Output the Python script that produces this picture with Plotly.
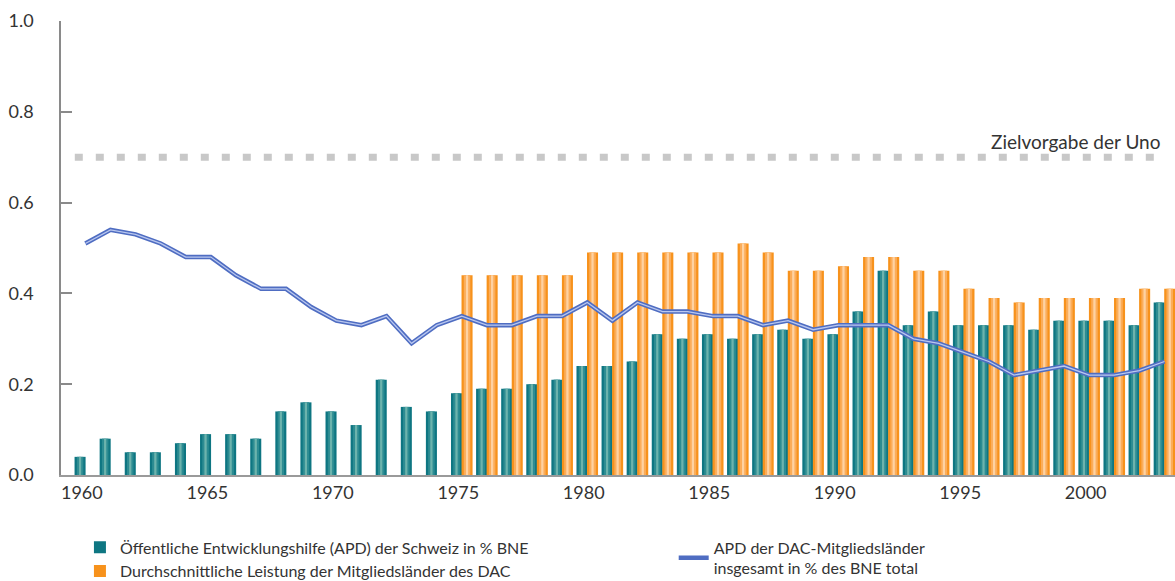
import plotly.graph_objects as go

years = list(range(1960, 2004))
swiss_apd = [0.04, 0.08, 0.05, 0.05, 0.07, 0.09, 0.09, 0.08, 0.14, 0.16,
             0.14, 0.11, 0.21, 0.15, 0.14, 0.18, 0.19, 0.19, 0.20, 0.21,
             0.24, 0.24, 0.25, 0.31, 0.30, 0.31, 0.30, 0.31, 0.32, 0.30,
             0.31, 0.36, 0.45, 0.33, 0.36, 0.33, 0.33, 0.33, 0.32, 0.34,
             0.34, 0.34, 0.33, 0.38]
dac_years = list(range(1975, 2004))
dac_avg = [0.44, 0.44, 0.44, 0.44, 0.44, 0.49, 0.49, 0.49, 0.49, 0.49,
           0.49, 0.51, 0.49, 0.45, 0.45, 0.46, 0.48, 0.48, 0.45, 0.45,
           0.41, 0.39, 0.38, 0.39, 0.39, 0.39, 0.39, 0.41, 0.41]
dac_total = [0.51, 0.54, 0.53, 0.51, 0.48, 0.48, 0.44, 0.41, 0.41, 0.37,
             0.34, 0.33, 0.35, 0.29, 0.33, 0.35, 0.33, 0.33, 0.35, 0.35,
             0.38, 0.34, 0.38, 0.36, 0.36, 0.35, 0.35, 0.33, 0.34, 0.32,
             0.33, 0.33, 0.33, 0.30, 0.29, 0.27, 0.25, 0.22, 0.23, 0.24,
             0.22, 0.22, 0.23, 0.25]
un_target = 0.7
tick_years = [1960, 1965, 1970, 1975, 1980, 1985, 1990, 1995, 2000]
y_ticks = [0.0, 0.2, 0.4, 0.6, 0.8, 1.0]

name_swiss = "Öffentliche Entwicklungshilfe (APD) der Schweiz in % BNE"
name_avg = "Durchschnittliche Leistung der Mitgliedsländer des DAC"
name_total = "APD der DAC-Mitgliedsländer<br>insgesamt in % des BNE total"

FONT = "Lato"
fig = go.Figure()

# bar layers simulate the shaded cylinders
BW = 0.44
teal_layers = [("#0e7682", BW, True), ("#2d8c92", 0.26, False), ("#6cb3ad", 0.09, False)]
orange_layers = [("#f7921c", BW, True), ("#fbad5a", 0.26, False), ("#fed2a2", 0.09, False)]

for col, w, show in teal_layers:
    fig.add_trace(go.Bar(
        x=years, y=swiss_apd, width=w, offset=-0.21 - w / 2,
        marker=dict(color=col, line=dict(width=0)),
        name=name_swiss, showlegend=show, legend="legend", legendrank=1,
        hoverinfo="skip" if not show else None,
    ))
for col, w, show in orange_layers:
    fig.add_trace(go.Bar(
        x=dac_years, y=dac_avg, width=w, offset=0.21 - w / 2,
        marker=dict(color=col, line=dict(width=0)),
        name=name_avg, showlegend=show, legend="legend", legendrank=2,
        hoverinfo="skip" if not show else None,
    ))

fig.add_trace(go.Scatter(
    x=years, y=dac_total, mode="lines",
    line=dict(color="#4f6dc2", width=4.5),
    name=name_total, legend="legend2",
))
fig.add_trace(go.Scatter(
    x=years, y=dac_total, mode="lines",
    line=dict(color="#b9c7ef", width=1.3),
    showlegend=False, hoverinfo="skip",
))

# UN target line
fig.add_trace(go.Scatter(
    x=[years[0] - 0.42, years[-1] - 0.1], y=[un_target, un_target], mode="lines",
    line=dict(color="#c8c8c8", width=7, dash="8px,13px"),
    showlegend=False, hoverinfo="skip",
))
fig.add_annotation(
    x=years[-1] - 0.1, y=un_target, xref="x", yref="y",
    text="Zielvorgabe der Uno", showarrow=False,
    xanchor="right", yanchor="bottom", yshift=2,
    font=dict(family=FONT, size=19, color="#333333"),
)

fig.update_layout(
    width=1175, height=581,
    margin=dict(l=61, r=0, t=21, b=106, autoexpand=False),
    paper_bgcolor="white", plot_bgcolor="white",
    barmode="overlay",
    font=dict(family=FONT, size=18, color="#333333"),
    legend=dict(
        x=0.017, y=-0.122, xanchor="left", yanchor="top",
        orientation="v", font=dict(family=FONT, size=16, color="#333333"),
        itemwidth=30, tracegroupgap=0, bgcolor="rgba(0,0,0,0)",
    ),
    legend2=dict(
        x=0.55, y=-0.122, xanchor="left", yanchor="top",
        orientation="v", font=dict(family=FONT, size=16, color="#333333"),
        itemwidth=30, bgcolor="rgba(0,0,0,0)",
    ),
    xaxis=dict(
        range=[1959.03, 2003.42],
        tickvals=[t - 0.14 for t in tick_years],
        ticktext=[str(t) for t in tick_years],
        showgrid=False, zeroline=False, automargin=False,
        showline=True, linecolor="#9a9a9a", linewidth=2,
        ticks="", tickfont=dict(family=FONT, size=18, color="#333333"),
    ),
    yaxis=dict(
        range=[0, 1.0],
        tickvals=y_ticks,
        ticktext=[f"{v:.1f}" for v in y_ticks],
        showgrid=False, zeroline=False, automargin=False,
        showline=True, linecolor="#8a8a8a", linewidth=1.5,
        ticks="inside", ticklen=11, tickcolor="#8a8a8a", tickwidth=1.5,
        ticklabelstandoff=22,
        tickfont=dict(family=FONT, size=18, color="#333333"),
    ),
)

fig.write_html(
    "out.html",
    config={"displayModeBar": False},
    post_script="document.body.style.margin='0';document.body.style.overflow='hidden';",
)
